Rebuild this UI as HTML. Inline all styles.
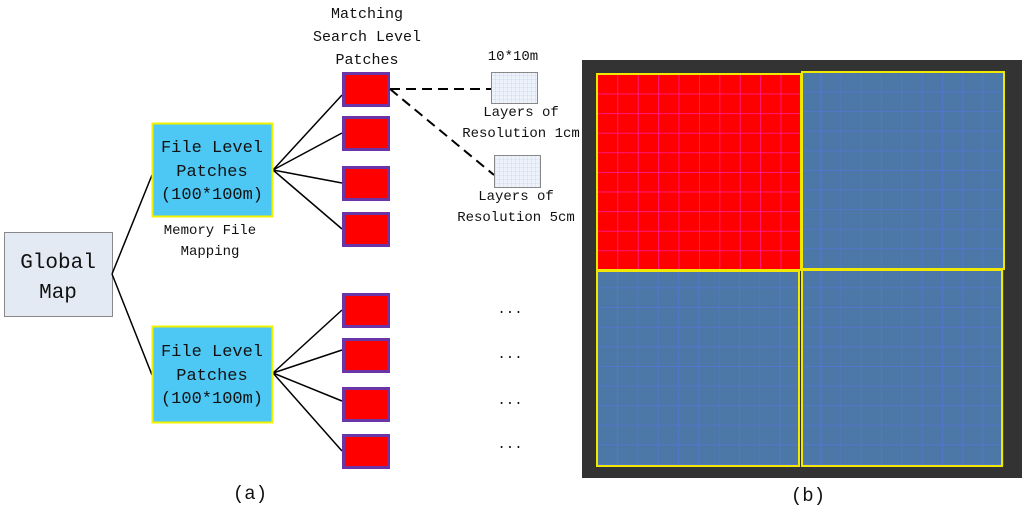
<!DOCTYPE html>
<html><head><meta charset="utf-8"><style>
body{margin:0;background:#fff}
svg{display:block}
text{font-family:"Liberation Mono","Noto Serif CJK SC",monospace;fill:#111}
</style></head><body>
<svg width="1024" height="510" viewBox="0 0 1024 510" xmlns="http://www.w3.org/2000/svg">
<defs>
<pattern id="sg" width="4" height="4" patternUnits="userSpaceOnUse"><rect width="4" height="4" fill="#eef3fb"/><path d="M4 0V4M0 4H4" stroke="#b8c8e6" stroke-width="0.6"/></pattern>
<pattern id="rg" x="597" y="74" width="20.4" height="19.6" patternUnits="userSpaceOnUse"><rect width="21" height="20" fill="#ff0000"/><path d="M0 0V20M0 0H21" stroke="#ff22aa" stroke-width="1.5"/></pattern>
<pattern id="bg" x="597" y="72" width="20.3" height="19.6" patternUnits="userSpaceOnUse"><rect width="21" height="20" fill="#4b78a6"/><path d="M0 0V20M0 0H21" stroke="#5a74e0" stroke-width="1.2"/></pattern>
</defs>
<!-- Global Map -->
<rect x="4.5" y="232.5" width="108" height="84" fill="#e4eaf4" stroke="#888" stroke-width="1"/>
<text x="58" y="268" font-size="21" text-anchor="middle">Global</text>
<text x="58" y="298" font-size="21" text-anchor="middle">Map</text>
<g stroke="#000" stroke-width="1.5" fill="none">
<path d="M112 274L152 175M112 274L152 375"/>
<path d="M273 170L342 95M273 170L342 133M273 170L342 183M273 170L342 229"/>
<path d="M273 373L342 310M273 373L342 350M273 373L342 401M273 373L342 451"/>
</g>
<!-- file boxes -->
<rect x="152.5" y="123.5" width="120" height="93" fill="#4dc8f4" stroke="#f2f200" stroke-width="2"/>
<text x="212" y="152" font-size="17" text-anchor="middle">File Level</text>
<text x="212" y="176" font-size="17" text-anchor="middle">Patches</text>
<text x="212" y="199" font-size="17" text-anchor="middle">(100*100m)</text>
<text x="210" y="234" font-size="14" text-anchor="middle">Memory File</text>
<text x="210" y="255" font-size="14" text-anchor="middle">Mapping</text>
<rect x="152.5" y="326.5" width="120" height="96" fill="#4dc8f4" stroke="#f2f200" stroke-width="2"/>
<text x="212" y="356" font-size="17" text-anchor="middle">File Level</text>
<text x="212" y="380" font-size="17" text-anchor="middle">Patches</text>
<text x="212" y="403" font-size="17" text-anchor="middle">(100*100m)</text>
<!-- red boxes -->
<g fill="#ff0000" stroke="#6b35a8" stroke-width="3">
<rect x="343.5" y="73.5" width="45" height="32"/>
<rect x="343.5" y="117.5" width="45" height="32"/>
<rect x="343.5" y="167.5" width="45" height="32"/>
<rect x="343.5" y="213.5" width="45" height="32"/>
<rect x="343.5" y="294.5" width="45" height="32"/>
<rect x="343.5" y="339.5" width="45" height="32"/>
<rect x="343.5" y="388.5" width="45" height="32"/>
<rect x="343.5" y="435.5" width="45" height="32"/>
</g>
<text x="367" y="18" font-size="15" text-anchor="middle">Matching</text>
<text x="367" y="41" font-size="15" text-anchor="middle">Search Level</text>
<text x="367" y="64" font-size="15" text-anchor="middle">Patches</text>
<g stroke="#000" stroke-width="2" stroke-dasharray="10,6" fill="none">
<path d="M390 89H491M390 89L494 175"/>
</g>
<rect x="491.5" y="72.5" width="46" height="31" fill="url(#sg)" stroke="#888"/>
<rect x="494.5" y="155.5" width="46" height="32" fill="url(#sg)" stroke="#888"/>
<text x="513" y="60" font-size="14" text-anchor="middle">10*10m</text>
<text x="521" y="116" font-size="14" text-anchor="middle">Layers of</text>
<text x="521" y="137" font-size="14" text-anchor="middle">Resolution 1cm</text>
<text x="516" y="200" font-size="14" text-anchor="middle">Layers of</text>
<text x="516" y="221" font-size="14" text-anchor="middle">Resolution 5cm</text>
<g font-size="14" text-anchor="middle">
<text x="510" y="313">...</text><text x="510" y="358">...</text><text x="510" y="404">...</text><text x="510" y="448">...</text>
</g>
<text x="250" y="499" font-size="19" text-anchor="middle">(a)</text>
<!-- right panel -->
<rect x="582" y="60" width="440" height="418" fill="#333"/>
<rect x="597" y="74" width="204" height="196" fill="url(#rg)" stroke="#f0e800" stroke-width="2"/>
<rect x="802" y="72" width="202" height="197" fill="url(#bg)" stroke="#f0e800" stroke-width="2"/>
<rect x="597" y="271" width="202" height="195" fill="url(#bg)" stroke="#f0e800" stroke-width="2"/>
<rect x="1001" y="270" width="3" height="196" fill="#ff0000"/>
<rect x="802" y="270" width="200" height="196" fill="url(#bg)" stroke="#f0e800" stroke-width="2"/>
<text x="808" y="501" font-size="19" text-anchor="middle">(b)</text>
</svg>
</body></html>
